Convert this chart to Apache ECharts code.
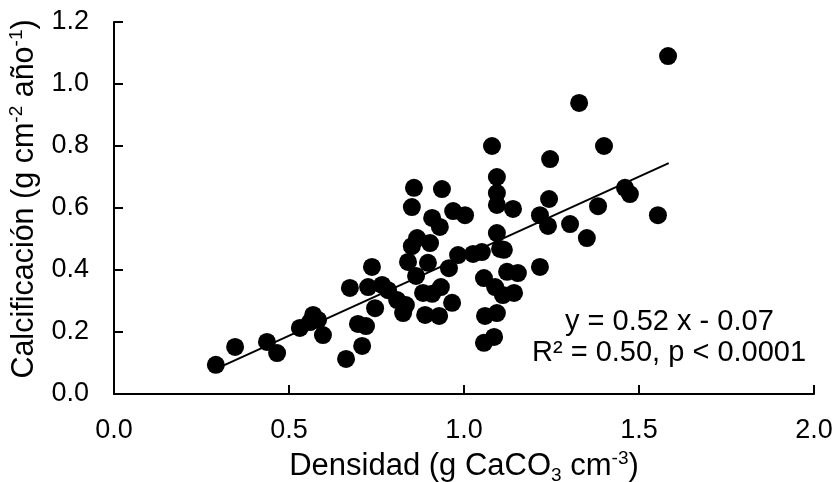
<!DOCTYPE html>
<html>
<head>
<meta charset="utf-8">
<script src="https://cdn.jsdelivr.net/npm/echarts@6/dist/echarts.min.js"></script>
<style>
  html, body { margin: 0; padding: 0; background: #fff; }
  #chart { width: 835px; height: 482px; }
</style>
</head>
<body>
<div id="chart"></div>
<script>
// densidad (g CaCO3 cm-3)
var densX = [
  0.291, 0.346, 0.437, 0.466, 0.531, 0.569, 0.583, 0.560, 0.597, 0.674,
  0.663, 0.709, 0.697, 0.720, 0.737, 0.726, 0.766, 0.783, 0.809, 0.834,
  0.826, 0.746, 0.857, 0.937, 0.851, 0.909, 0.931, 0.969, 1.003, 0.866,
  0.903, 0.851, 0.840, 0.897, 0.863, 0.957, 0.983, 1.026, 1.051, 0.934,
  0.883, 0.909, 0.966, 0.889, 0.929, 1.080, 1.094, 1.094, 1.094, 1.140,
  1.094, 1.103, 1.057, 1.089, 1.123, 1.154, 1.111, 1.143, 1.217, 1.060,
  1.094, 1.057, 1.086, 1.246, 1.243, 1.217, 1.240, 1.303, 1.351, 1.383,
  1.460, 1.474, 1.554, 1.329, 1.400, 1.583, 1.114
]
// calcificacion (g cm-2 año-1)
var calcY = [
  0.094, 0.152, 0.168, 0.132, 0.213, 0.255, 0.239, 0.232, 0.190, 0.342,
  0.113, 0.155, 0.226, 0.219, 0.410, 0.345, 0.352, 0.335, 0.303, 0.287,
  0.261, 0.277, 0.665, 0.661, 0.603, 0.568, 0.539, 0.590, 0.577, 0.503,
  0.487, 0.477, 0.426, 0.423, 0.381, 0.406, 0.448, 0.452, 0.458, 0.345,
  0.326, 0.323, 0.294, 0.255, 0.252, 0.800, 0.700, 0.648, 0.610, 0.597,
  0.519, 0.468, 0.374, 0.345, 0.394, 0.390, 0.319, 0.326, 0.410, 0.252,
  0.261, 0.165, 0.184, 0.758, 0.629, 0.577, 0.542, 0.548, 0.503, 0.606,
  0.665, 0.645, 0.577, 0.939, 0.800, 1.090, 0.465
]
// recta de regresion y = 0.52 x - 0.07 (extremos)
var fitX = [0.29, 1.585]
var fitY = [0.08, 0.745]

var xTicks = ['0.0', '0.5', '1.0', '1.5', '2.0']
var yTicks = ['0.0', '0.2', '0.4', '0.6', '0.8', '1.0', '1.2']

var font = 'Liberation Sans, Arial, sans-serif'

var points = densX.map(function (x, i) { return [x, calcY[i]] })
var fitLine = fitX.map(function (x, i) { return [x, fitY[i]] })

var chart = echarts.init(document.getElementById('chart'), null, { renderer: 'canvas' })

var axisLine = { show: true, lineStyle: { color: '#000', width: 2 } }
var axisTick = { show: true, inside: true, length: 9, lineStyle: { color: '#000', width: 2 } }

chart.setOption({
  animation: false,
  backgroundColor: '#fff',
  grid: { left: 114, right: 21, top: 22, bottom: 88, outerBoundsMode: 'none', containLabel: false },
  xAxis: {
    type: 'value',
    min: 0,
    max: 2,
    interval: 0.5,
    splitLine: { show: false },
    axisLine: axisLine,
    axisTick: axisTick,
    axisLabel: {
      margin: 23,
      color: '#000',
      fontFamily: font,
      fontSize: 27,
      formatter: function (v) { return xTicks[Math.round(v / 0.5)] }
    },
    name: '{a|Densidad (g CaCO}{b|3}{a| cm}{s|-3}{a|)}',
    nameLocation: 'middle',
    nameGap: 54,
    nameTextStyle: {
      rich: {
        a: { fontFamily: font, fontSize: 31, color: '#000', lineHeight: 36 },
        b: { fontFamily: font, fontSize: 19, color: '#000', lineHeight: 36, verticalAlign: 'bottom' },
        s: { fontFamily: font, fontSize: 19, color: '#000', lineHeight: 36, verticalAlign: 'top' }
      }
    }
  },
  yAxis: {
    type: 'value',
    min: 0,
    max: 1.2,
    interval: 0.2,
    splitLine: { show: false },
    axisLine: axisLine,
    axisTick: axisTick,
    axisLabel: {
      margin: 25,
      color: '#000',
      fontFamily: font,
      fontSize: 27,
      formatter: function (v) { return yTicks[Math.round(v / 0.2)] }
    },
    name: '{a|Calcificación (g cm}{s|-2}{a| año}{s|-1}{a|)}',
    nameLocation: 'middle',
    nameGap: 68,
    nameTextStyle: {
      padding: [0, 0, 0, 18],
      rich: {
        a: { fontFamily: font, fontSize: 30.5, color: '#000', lineHeight: 36 },
        s: { fontFamily: font, fontSize: 19, color: '#000', lineHeight: 36, verticalAlign: 'top' }
      }
    }
  },
  graphic: [
    {
      type: 'text',
      left: 565,
      top: 307,
      style: {
        text: 'y = 0.52 x - 0.07',
        font: '29px ' + font,
        fill: '#000'
      }
    },
    {
      type: 'text',
      left: 532,
      top: 338,
      style: {
        text: 'R² = 0.50, p < 0.0001',
        font: '29px ' + font,
        fill: '#000'
      }
    }
  ],
  series: [
    {
      type: 'scatter',
      data: points,
      symbol: 'circle',
      symbolSize: 18,
      itemStyle: { color: '#000', opacity: 1 },
      z: 2
    },
    {
      type: 'line',
      data: fitLine,
      symbol: 'none',
      lineStyle: { color: '#000', width: 2 },
      z: 3
    }
  ]
})
</script>
</body>
</html>
